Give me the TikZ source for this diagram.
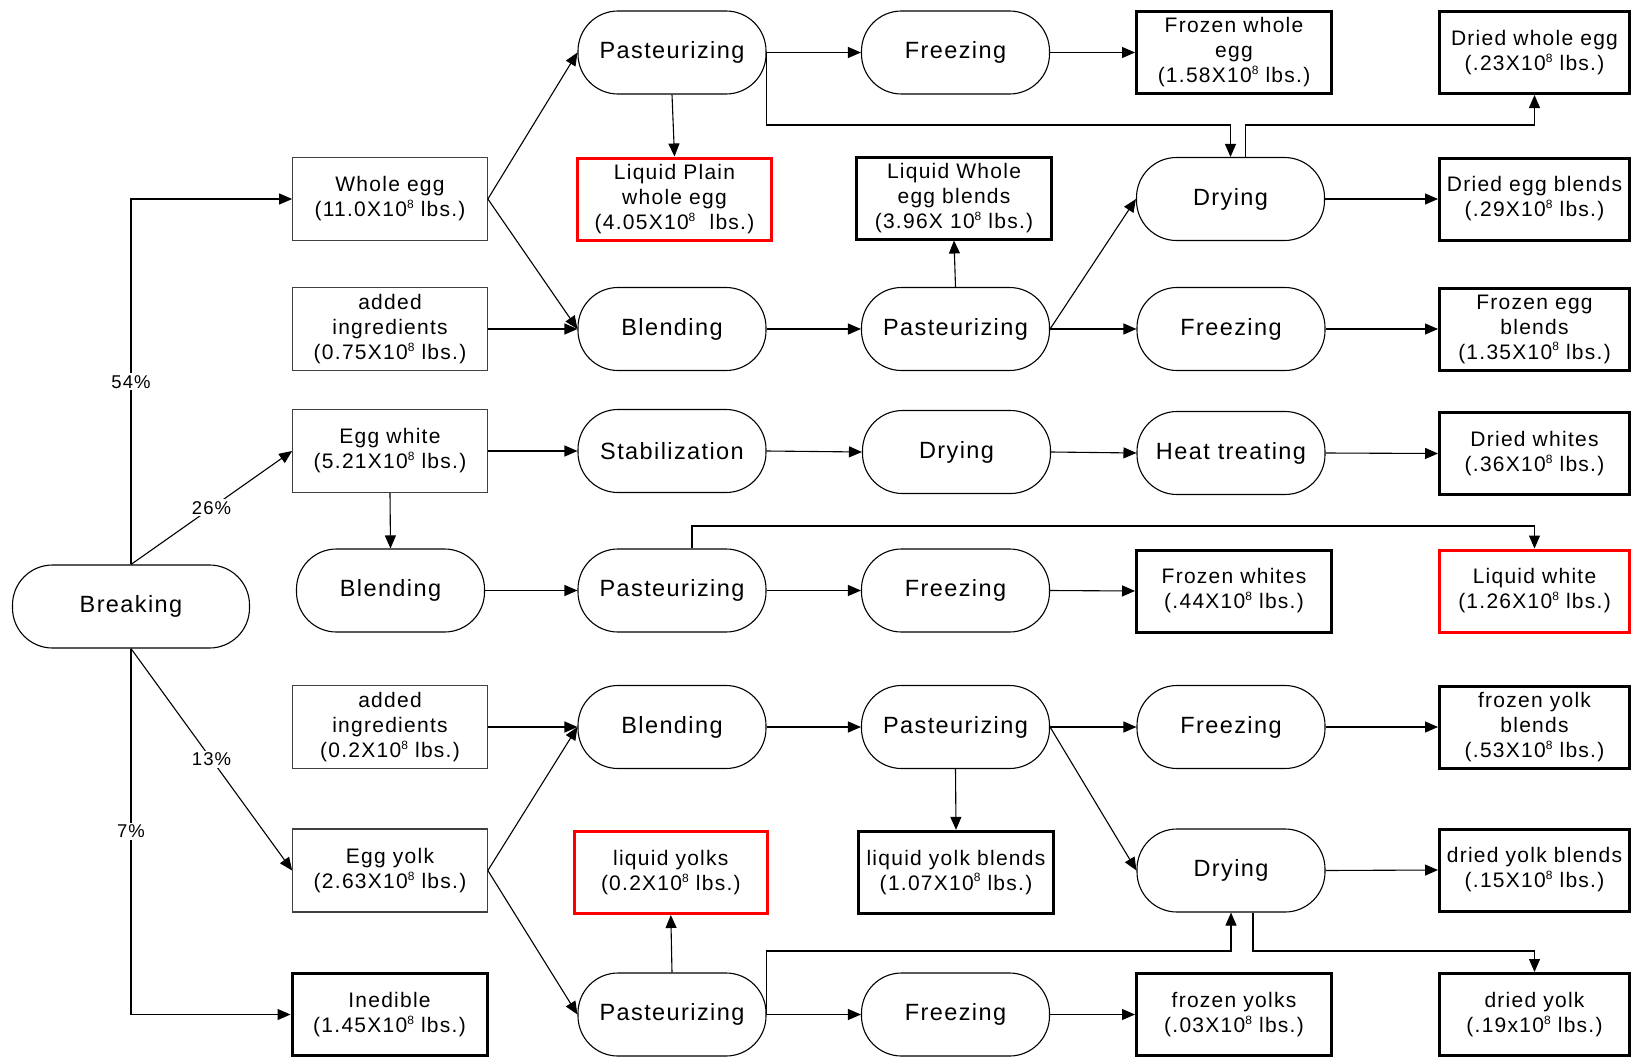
\documentclass[tikz,border=0pt]{standalone}
\usepackage{fontspec}
\setmainfont{Liberation Sans}[LetterSpace=6]
\usetikzlibrary{arrows.meta}
\newcommand\pw[1]{\raisebox{0.75ex}{\fontsize{12}{12}\selectfont #1}}
\begin{document}
\begin{tikzpicture}[x=1pt,y=-1pt,
  proc/.style={draw=black, line width=1.1pt, rounded corners=40pt, minimum width=188pt, minimum height=83pt, inner sep=0pt, align=center, font=\fontsize{23.5}{27}\selectfont},
  inbox/.style={draw=black!75, line width=1.2pt, minimum width=194.5pt, minimum height=83pt, inner sep=0pt, align=center, font=\fontsize{21}{25}\selectfont},
  outbox/.style={draw=black, line width=3pt, minimum width=195pt, minimum height=82pt, inner sep=0pt, align=center, font=\fontsize{21}{25}\selectfont},
  lastbox/.style={outbox, minimum width=190pt},
  redbox/.style={draw=red, line width=3pt, minimum width=193.5pt, minimum height=82pt, inner sep=0pt, align=center, font=\fontsize{21}{25}\selectfont},
  arr/.style={draw=black, line width=1.1pt, -{Triangle[length=13pt,width=11pt]}},
  pct/.style={fill=white, inner sep=2pt, font=\fontsize{18.5}{20}\selectfont}]
\useasboundingbox (0,0) rectangle (1632,1057);
\fill[white] (0,0) rectangle (1632,1057);

% column 0/1
\node[proc, minimum width=237pt] (brk) at (131,606.5) {Breaking};
\node[inbox] (we) at (390,199) {Whole egg\\(11.0X10\pw{8} lbs.)};
\node[inbox] (ai1) at (390,329) {added\\ingredients\\(0.75X10\pw{8} lbs.)};
\node[inbox] (ew) at (390,451) {Egg white\\(5.21X10\pw{8} lbs.)};
\node[proc] (bl5) at (390.5,590.5) {Blending};
\node[inbox] (ai2) at (390,727) {added\\ingredients\\(0.2X10\pw{8} lbs.)};
\node[inbox] (ey) at (390,870.5) {Egg yolk\\(2.63X10\pw{8} lbs.)};
\node[outbox] (ined) at (389.5,1014.5) {Inedible\\(1.45X10\pw{8} lbs.)};

% column 2
\node[proc] (p1) at (672,52.5) {Pasteurizing};
\node[redbox] (lpw) at (674.5,199) {Liquid Plain\\whole egg\\(4.05X10\pw{8}\ \ lbs.)};
\node[proc] (bl3) at (672,329) {Blending};
\node[proc] (stab) at (672,451) {Stabilization};
\node[proc] (p5) at (672,590.5) {Pasteurizing};
\node[proc] (bl6) at (672,727) {Blending};
\node[redbox] (ly) at (670.8,872.5) {liquid yolks\\(0.2X10\pw{8} lbs.)};
\node[proc] (p8) at (672,1014.5) {Pasteurizing};

% column 3
\node[proc] (fr1) at (955.5,52.5) {Freezing};
\node[outbox] (lweb) at (954,198) {Liquid Whole\\egg blends\\(3.96X 10\pw{8} lbs.)};
\node[proc] (p3) at (955.5,329) {Pasteurizing};
\node[proc] (dry4) at (956.5,452) {Drying};
\node[proc] (fr5) at (955.5,590.5) {Freezing};
\node[proc] (p6) at (955.5,727) {Pasteurizing};
\node[outbox] (lyb) at (956,872.3) {liquid yolk blends\\(1.07X10\pw{8} lbs.)};
\node[proc] (fr8) at (955.5,1014.5) {Freezing};

% column 4
\node[outbox] (fwe) at (1234,52.5) {Frozen whole\\egg\\(1.58X10\pw{8} lbs.)};
\node[proc] (dry2) at (1230.5,199) {Drying};
\node[proc] (fr3) at (1231,329) {Freezing};
\node[proc] (ht) at (1231,453) {Heat treating};
\node[outbox] (fw) at (1234,591) {Frozen whites\\(.44X10\pw{8} lbs.)};
\node[proc] (fr6) at (1231,727) {Freezing};
\node[proc] (dry7) at (1231,870.5) {Drying};
\node[outbox] (fy) at (1234,1014.5) {frozen yolks\\(.03X10\pw{8} lbs.)};

% column 5
\node[lastbox] (dwe) at (1534.5,52.5) {Dried whole egg\\(.23X10\pw{8} lbs.)};
\node[lastbox] (deb) at (1534.5,199) {Dried egg blends\\(.29X10\pw{8} lbs.)};
\node[lastbox] (feb) at (1534.5,329) {Frozen egg\\blends\\(1.35X10\pw{8} lbs.)};
\node[lastbox] (dw) at (1534.5,453.5) {Dried whites\\(.36X10\pw{8} lbs.)};
\node[redbox, minimum width=190pt] (lw) at (1534.5,591) {Liquid white\\(1.26X10\pw{8} lbs.)};
\node[lastbox] (fyb) at (1534.5,727) {frozen yolk\\blends\\(.53X10\pw{8} lbs.)};
\node[lastbox] (dyb) at (1534.5,870) {dried yolk blends\\(.15X10\pw{8} lbs.)};
\node[lastbox] (dy) at (1534.5,1014.5) {dried yolk\\(.19x10\pw{8} lbs.)};

% helper coordinates
\coordinate (h1) at (0,125);
\coordinate (h2) at (0,526);
\coordinate (h3) at (0,951);
\coordinate (d2t) at ([xshift=15pt]dry2.north);
\coordinate (p5t) at ([xshift=20pt]p5.north);
\coordinate (d7b) at ([xshift=22pt]dry7.south);

% connectors from Breaking
\draw[arr] (brk.north) |- node[pct,pos=0.25]{54\%} (we.west);
\draw[arr] (brk.north) -- node[pct]{26\%} (ew.west);
\draw[arr] (brk.south) -- node[pct]{13\%} (ey.west);
\draw[arr] (brk.south) |- node[pct,pos=0.25]{7\%} (ined.west);

% whole egg
\draw[arr] (we.east) -- (p1.west);
\draw[arr] (we.east) -- (bl3.west);
\draw[arr] (ai1.east) -- (bl3.west);
\draw[arr] (p1.south) -- (lpw.north);
\draw[arr] (p1.east) -- (fr1.west);
\draw[arr] (fr1.east) -- (fwe.west);
\draw[arr] (p1.east) -- (p1.east |- h1) -| (dry2.north);
\draw[arr] (d2t) -- (d2t |- h1) -| (dwe.south);
\draw[arr] (dry2.east) -- (deb.west);
\draw[arr] (bl3.east) -- (p3.west);
\draw[arr] (p3.north) -- (lweb.south);
\draw[arr] (p3.east) -- (dry2.west);
\draw[arr] (p3.east) -- (fr3.west);
\draw[arr] (fr3.east) -- (feb.west);

% egg white
\draw[arr] (ew.east) -- (stab.west);
\draw[arr] (stab.east) -- (dry4.west);
\draw[arr] (dry4.east) -- (ht.west);
\draw[arr] (ht.east) -- (dw.west);
\draw[arr] (ew.south) -- (bl5.north);
\draw[arr] (bl5.east) -- (p5.west);
\draw[arr] (p5t) -- (p5t |- h2) -| (lw.north);
\draw[arr] (p5.east) -- (fr5.west);
\draw[arr] (fr5.east) -- (fw.west);

% egg yolk
\draw[arr] (ai2.east) -- (bl6.west);
\draw[arr] (ey.east) -- (bl6.west);
\draw[arr] (ey.east) -- (p8.west);
\draw[arr] (bl6.east) -- (p6.west);
\draw[arr] (p6.east) -- (fr6.west);
\draw[arr] (fr6.east) -- (fyb.west);
\draw[arr] (p6.south) -- (lyb.north);
\draw[arr] (p6.east) -- (dry7.west);
\draw[arr] (dry7.east) -- (dyb.west);
\draw[arr] (p8.north) -- (ly.south);
\draw[arr] (p8.east) -- (p8.east |- h3) -| (dry7.south);
\draw[arr] (p8.east) -- (fr8.west);
\draw[arr] (fr8.east) -- (fy.west);
\draw[arr] (d7b) -- (d7b |- h3) -| (dy.north);
\end{tikzpicture}
\end{document}
